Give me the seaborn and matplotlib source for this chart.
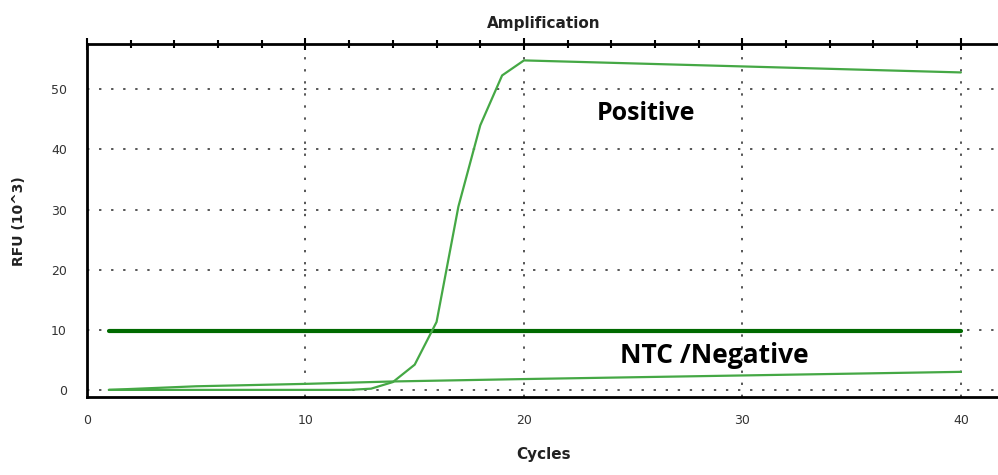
import pandas as pd
import matplotlib.pyplot as plt
import seaborn as sns
from matplotlib.ticker import MultipleLocator

# Values (RFU in 10^3)
cycles_pos = [1, 5, 10, 12, 13, 14, 15, 16, 17, 18, 19, 20, 40]
rfu_pos = [0.0, 0.0, 0.0, 0.0, 0.2, 1.3, 4.2, 11.3, 30.5, 44.0, 52.3, 54.8, 52.8]

cycles_neg = [1, 5, 10, 14, 20, 30, 40]
rfu_neg = [0.0, 0.6, 1.0, 1.4, 1.8, 2.4, 3.0]

cycles_thr = [1, 40]
rfu_thr = [9.8, 9.8]

def main():
    sns.set_theme(style="white")
    plt.rcParams['font.family'] = ['DejaVu Sans']

    fig = plt.figure(figsize=(9.98, 4.75), dpi=100)
    ax = fig.add_axes([0.0872, 0.164, 0.915, 0.743])

    pos = pd.DataFrame({"Cycles": cycles_pos, "RFU": rfu_pos})
    neg = pd.DataFrame({"Cycles": cycles_neg, "RFU": rfu_neg})
    thr = pd.DataFrame({"Cycles": cycles_thr, "RFU": rfu_thr})

    sns.lineplot(data=thr, x="Cycles", y="RFU", ax=ax, color="#006a00", linewidth=3)
    sns.lineplot(data=neg, x="Cycles", y="RFU", ax=ax, color="#45a845", linewidth=1.6)
    sns.lineplot(data=pos, x="Cycles", y="RFU", ax=ax, color="#45a845", linewidth=1.6)

    ax.set_xlim(0, 41.8)
    ax.set_ylim(-1.2, 57.5)
    ax.xaxis.set_major_locator(MultipleLocator(10))
    ax.xaxis.set_minor_locator(MultipleLocator(2))
    ax.yaxis.set_major_locator(MultipleLocator(10))
    ax.yaxis.set_minor_locator(MultipleLocator(2))

    ax.grid(True, which="major", color="#555555", linestyle=(0, (1.2, 5)), linewidth=1.4)
    ax.tick_params(axis="both", which="both", direction="inout", colors="black",
                   labelcolor="#333333", labelsize=9, width=1.5)
    ax.tick_params(axis="both", which="major", length=9)
    ax.tick_params(axis="both", which="minor", length=6)
    ax.tick_params(axis="x", which="both", top=True)
    ax.tick_params(axis="x", which="major", pad=8)
    ax.tick_params(axis="y", which="major", pad=10)

    for side in ["left", "bottom", "top"]:
        ax.spines[side].set_color("black")
        ax.spines[side].set_linewidth(2)
    ax.spines["right"].set_visible(False)

    ax.set_xlabel("Cycles", fontsize=11, fontweight="bold", color="#222222", labelpad=14)
    ax.set_ylabel("RFU (10^3)", fontsize=10, fontweight="bold", color="#222222", labelpad=18)
    ax.set_title("Amplification", fontsize=11, fontweight="bold", color="#222222", pad=12)

    ax.text(25.6, 46, "Positive", fontsize=18, fontweight="bold", color="black",
            ha="center", va="center", family=["Open Sans", "DejaVu Sans"])
    ax.text(28.7, 5.8, "NTC /Negative", fontsize=19, fontweight="bold", color="black",
            ha="center", va="center", family=["Open Sans", "DejaVu Sans"])

    fig.savefig("out.png", dpi=100)
    plt.close(fig)

if __name__ == "__main__":
    main()
